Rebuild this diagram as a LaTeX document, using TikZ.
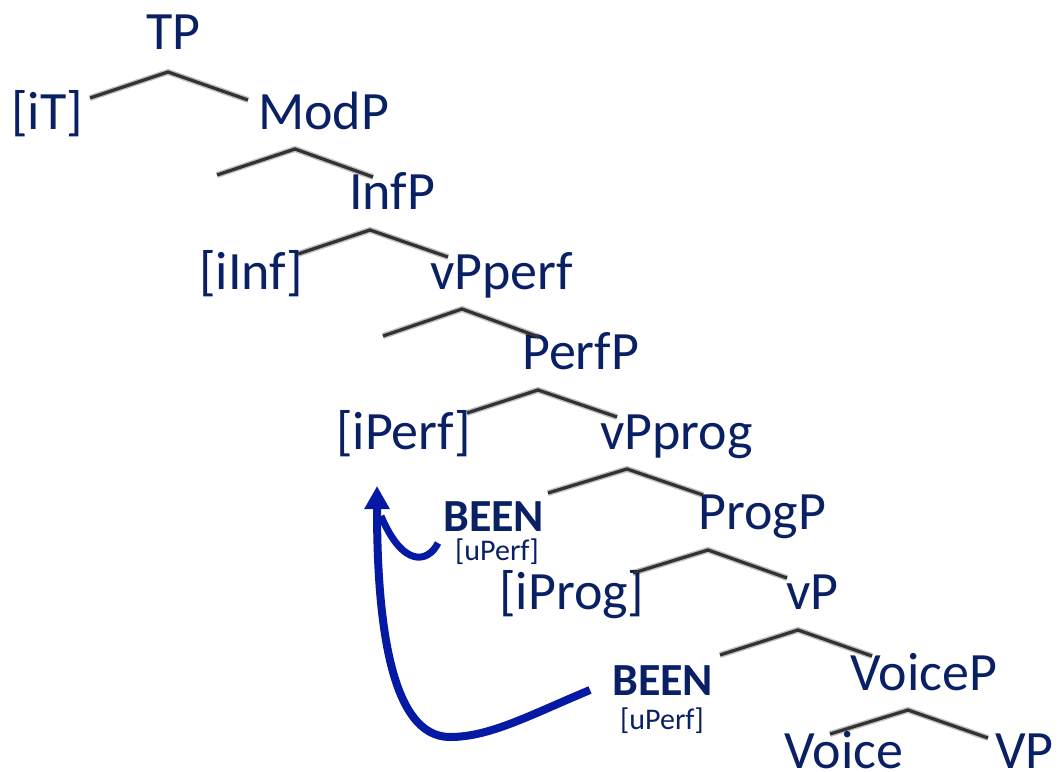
\documentclass[tikz,border=0pt]{standalone}
\usepackage{fontspec}
\setmainfont{Carlito}
\usetikzlibrary{arrows.meta}
\definecolor{labelblue}{RGB}{10,32,100}
\definecolor{arrowblue}{RGB}{5,25,165}
\definecolor{branchgray}{RGB}{50,50,50}

% one binary branch: soft shadow first, then the dark line
\newcommand\treebranch[3]{%
  \foreach \dy/\op in {3/0.10,6/0.08,9/0.06,12/0.04}{%
    \draw[shade, opacity=\op, yshift=-\dy pt] (#1) -- (#2) -- (#3);}
  \draw[branch] (#1) -- (#2) -- (#3);}

\begin{document}
\begin{tikzpicture}[x=1pt,y=-1pt,
  lab/.style={anchor=base west, inner sep=0pt, text=labelblue, font=\fontsize{54}{60}\selectfont},
  been/.style={anchor=base west, inner sep=0pt, text=labelblue, font=\fontsize{46}{50}\selectfont\bfseries},
  feat/.style={anchor=base west, inner sep=0pt, text=labelblue, font=\fontsize{30}{34}\selectfont},
  branch/.style={draw=branchgray, line width=3.2pt, line join=miter},
  shade/.style={draw=black, line width=6pt, line join=round},
  move/.style={draw=arrowblue, line width=8pt}
]
\useasboundingbox (0,0) rectangle (1059,771);

% labels
\node[lab] (tp)      at (146,49)  {TP};
\node[lab] (it)      at (11,129)  {[iT]};
\node[lab] (modp)    at (258,129) {ModP};
\node[lab] (infp)    at (349,209) {InfP};
\node[lab] (iinf)    at (199,289) {[iInf]};
\node[lab] (vpperf)  at (430,289) {vPperf};
\node[lab] (perfp)   at (522,369) {PerfP};
\node[lab] (iperf)   at (336,449) {[iPerf]};
\node[lab] (vpprog)  at (600,449) {vPprog};
\node[been] (beenA)  at (443,531) {BEEN};
\node[feat] (uperfA) at (455,560) {[uPerf]};
\node[lab] (progp)   at (698,529) {ProgP};
\node[lab] (iprog)   at (499,609) {[iProg]};
\node[lab] (vp)      at (786,609) {vP};
\node[been] (beenB)  at (612,695) {BEEN};
\node[feat] (uperfB) at (620,729) {[uPerf]};
\node[lab] (voicep)  at (850,690) {VoiceP};
\node[lab] (voice)   at (784,768) {Voice};
\node[lab] (vpbar)   at (995,768) {VP};

% branch points
\coordinate (l1) at (90,98);   \coordinate (a1) at (168,72);  \coordinate (r1) at (248,100);
\coordinate (l2) at (217,175); \coordinate (a2) at (295,149); \coordinate (r2) at (373,177);
\coordinate (l3) at (298,254); \coordinate (a3) at (370,230); \coordinate (r3) at (448,257);
\coordinate (l4) at (383,336); \coordinate (a4) at (462,309); \coordinate (r4) at (539,337);
\coordinate (l5) at (467,413); \coordinate (a5) at (538,390); \coordinate (r5) at (617,417);
\coordinate (l6) at (548,493); \coordinate (a6) at (627,469); \coordinate (r6) at (703,495);
\coordinate (l7) at (633,573); \coordinate (a7) at (708,550); \coordinate (r7) at (787,578);
\coordinate (l8) at (720,655); \coordinate (a8) at (798,630); \coordinate (r8) at (872,656);
\coordinate (l9) at (830,734); \coordinate (a9) at (908,710); \coordinate (r9) at (988,738);

\foreach \i in {1,...,9}{\treebranch{l\i}{a\i}{r\i}}

% movement arrows
\coordinate (tip)    at (377,486);
\coordinate (startA) at (438,543);
\coordinate (join)   at (381,516);
\coordinate (startB) at (590,690);
\coordinate (bottom) at (450,737);

\draw[move, line width=7pt] (startA) .. controls (428,563) and (403,568) .. (join);
\draw[move, -{Triangle[length=23pt,width=24pt]}]
  (startB) .. controls (530,715) and (490,737) .. (bottom)
           .. controls (390,737) and (377,620) .. (tip);
\end{tikzpicture}
\end{document}
